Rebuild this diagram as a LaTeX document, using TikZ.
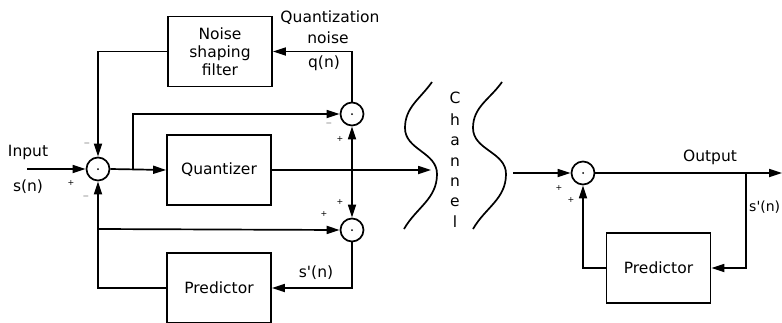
\documentclass[tikz,border=0pt]{standalone}
\usepackage{fontspec}
\setmainfont{DejaVu Sans}
\usetikzlibrary{arrows.meta}
\begin{document}
\begin{tikzpicture}[x=1pt,y=-1pt,
  line width=1.7pt,
  every node/.style={font=\fontsize{15.5}{20}\selectfont},
  blk/.style={draw,rectangle,minimum width=104pt,minimum height=70pt,inner sep=0pt,align=center},
  summer/.style={draw,circle,minimum size=23pt,inner sep=0pt},
  sgn/.style={font=\fontsize{8}{8}\selectfont,inner sep=0pt},
  lbl/.style={inner sep=0pt,align=center},
  arr/.style={-{Triangle[length=13pt,width=8pt]}},
  dotc/.style={fill,circle,inner sep=0pt,minimum size=2pt}]
\useasboundingbox (0,0) rectangle (782,322);
\clip (0,0) rectangle (782,322);
% blocks
\node[blk] (nsf) at (220,51.5) {Noise\\[-2pt]shaping\\[-2pt]filter};
\node[blk] (quant) at (219,170) {Quantizer};
\node[blk,minimum height=70pt] (predL) at (219,288) {Predictor};
\node[blk] (predR) at (658.5,268) {Predictor};
% summers
\node[summer] (sL) at (98,169) {};
\node[summer] (sT) at (352,114) {};
\node[summer] (sB) at (352,230) {};
\node[summer] (sR) at (583,173) {};
\foreach \s in {sL,sT,sB,sR} \node[dotc] at (\s) {};
% coordinates
\coordinate (in) at (27,169);
\coordinate (b1) at (133,169);
\coordinate (b2) at (352,170);
\coordinate (chin) at (431,170);
\coordinate (chout) at (513,173);
\coordinate (out) at (782,173);
\coordinate (b3) at (746,173);
\coordinate (b4) at (98,229);
% connectors
\draw[arr] (in) -- (sL.west);
\draw[arr] (sL.east) -- (quant.west);
\draw[arr] (b1) |- (sT.west);
\draw[arr] (quant.east) -- (chin);
\draw[arr] (b2) -- (sT.south);
\draw[arr] (b2) -- (sB.north);
\draw[arr] (sT.north) |- (nsf.east);
\draw[arr] (nsf.west) -| (sL.north);
\draw[arr] (predL.west) -| (sL.south);
\draw[arr] (b4) -- (sB.west);
\draw[arr] (sB.south) |- (predL.east);
\draw[arr] (chout) -- (sR.west);
\draw[arr] (sR.east) -- (out);
\draw[arr] (b3) |- (predR.east);
\draw[arr] (predR.west) -| (sR.south);
% channel curves
\draw (432,82) to[out=-125,in=90] (405,128) to[out=-90,in=90] (437,174) to[out=-90,in=60] (404,229);
\draw (502,82) to[out=-125,in=90] (473,128) to[out=-90,in=90] (506,174) to[out=-90,in=60] (473,229);
\foreach \c/\y in {C/98,h/120,a/141,n/162,n/182,e/202,l/222} \node[lbl] at (455,\y) {\c};
% labels
\node[lbl] (lq) at (330,18) {Quantization};
\node[lbl] (ln) at (328,38) {noise};
\node[lbl] (lqn) at (324,63) {q(n)};
\node[lbl] (lin) at (28,152) {Input};
\node[lbl] (lsn) at (28,187) {s(n)};
\node[lbl] (lsp) at (316,273) {s\textquotesingle(n)};
\node[lbl] (lout) at (710,157) {Output};
\node[lbl,anchor=east,font=\fontsize{14}{18}\selectfont] (lsp2) at (781,207) {s\textquotesingle(n)};
% signs
\node[sgn] at (87,143) {$-$};
\node[sgn] at (71,183) {+};
\node[sgn] at (86,196) {$-$};
\node[sgn] at (329,123) {$-$};
\node[sgn] at (340,139) {+};
\node[sgn] at (340,202) {+};
\node[sgn] at (324,214) {+};
\node[sgn] at (559,188) {+};
\node[sgn] at (571,200) {+};
\end{tikzpicture}
\end{document}
